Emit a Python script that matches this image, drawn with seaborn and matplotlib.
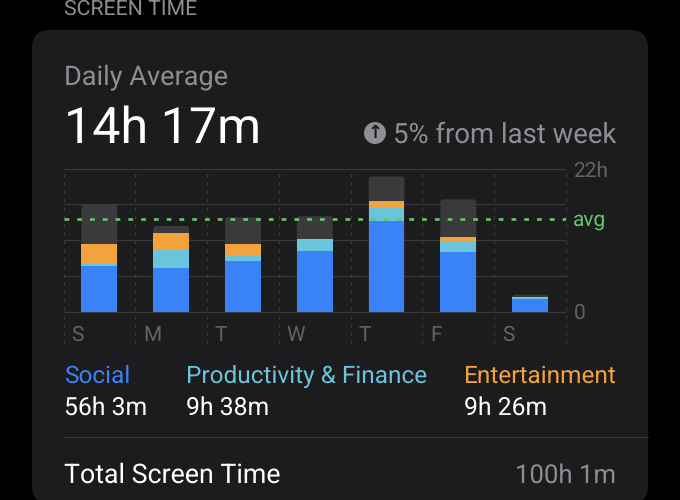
"""Screen Time weekly card, rebuilt with seaborn stacked bars."""
import matplotlib

matplotlib.use("Agg")
import matplotlib.pyplot as plt
import pandas as pd
import seaborn as sns
from matplotlib.patches import Circle, FancyBboxPatch

# hours per day
day_ids = ["d0", "d1", "d2", "d3", "d4", "d5", "d6"]
day_labels = ["S", "M", "T", "W", "T", "F", "S"]
social = [7.05, 6.75, 7.82, 9.3, 13.96, 9.2, 2.0]
productivity = [0.35, 2.76, 0.87, 1.69, 1.94, 1.64, 0.25]
entertainment = [3.07, 2.56, 1.78, 0.2, 1.18, 0.6, 0.0]
other = [6.03, 1.12, 4.03, 3.5, 3.7, 5.83, 0.4]
avg_hours = 14.28
y_max = 22
grid_hours = [0, 5.5, 11, 16.5, 22]

BLUE = "#3a82f7"
CYAN = "#6ac4dc"
ORANGE = "#f2a33c"
GRAY_BAR = "#3a3a3c"
CARD = "#1c1c1e"
GRID = "#3a3a3c"
MUTED = "#636366"
SOFT = "#8e8e93"
GREEN = "#63c966"
W, H = 680, 500

sns.set_theme(style="dark")
plt.rcParams["font.family"] = ["Roboto", "DejaVu Sans"]
plt.rcParams["text.hinting"] = "none"

fig = plt.figure(figsize=(W / 100, H / 100), dpi=100, facecolor="black")

# pixel-coordinate layer for the card and the text around the chart
bg = fig.add_axes([0, 0, 1, 1], zorder=0)
bg.set_xlim(0, W)
bg.set_ylim(H, 0)
bg.axis("off")
bg.add_patch(FancyBboxPatch((32, 30), 616, 474, boxstyle="round,pad=0,rounding_size=18",
                            fc=CARD, ec="none"))
bg.plot([64, 648], [437, 437], color="#38383a", lw=0.8)

# chart axes: x 63.5-566 px, y 168.5-344 px, zero at 312 px
px_per_hour = (312 - 168.5) / y_max
px_per_day = (566 - 63.5) / len(day_ids)
ax = fig.add_axes([63.5 / W, 1 - 344 / H, (566 - 63.5) / W, (344 - 168.5) / H], zorder=1)
ax.patch.set_alpha(0)

df = pd.DataFrame({"day": day_ids, "social": social, "productivity": productivity,
                   "entertainment": entertainment, "other": other})
df["s1"] = df["social"]
df["s2"] = df["s1"] + df["productivity"]
df["s3"] = df["s2"] + df["entertainment"]
df["s4"] = df["s3"] + df["other"]

for h in grid_hours:
    ax.axhline(h, color=GRID, lw=0.9, zorder=0)
for i in range(len(day_ids) + 1):
    ax.axvline(i - 0.5, color=GRID, lw=0.8, ls=(0, (3.5, 4)), zorder=0, clip_on=False)

# tallest first, each shorter stack painted over it
for col, colour in [("s4", GRAY_BAR), ("s3", ORANGE), ("s2", CYAN), ("s1", BLUE)]:
    sns.barplot(data=df, x="day", y=col, color=colour, width=0.5, saturation=1,
                order=day_ids, ax=ax, zorder=2, linewidth=0)

# round the top of the gray bars, 3 px radius in both directions
gray_bars = list(ax.patches[:len(day_ids)])
for bar in gray_bars:
    x0, w, h = bar.get_x(), bar.get_width(), bar.get_height()
    bar.set_visible(False)
    ax.add_patch(FancyBboxPatch((x0, 0), w, h,
                                boxstyle=f"round,pad=0,rounding_size={3 / px_per_day}",
                                mutation_aspect=px_per_day / px_per_hour,
                                fc=GRAY_BAR, ec="none", zorder=1.5))

ax.plot([-0.5, 6.5], [avg_hours, avg_hours], color=GREEN, lw=1.9,
        ls=(0, (1.8, 3.04)), zorder=4, dash_capstyle="butt")

ax.set_xlim(-0.5, 6.5)
ax.set_ylim(-(344 - 312) / px_per_hour, y_max)
ax.set_xlabel("")
ax.set_ylabel("")
ax.set_xticks([])
ax.set_yticks([])
sns.despine(ax=ax, left=True, bottom=True)
for i, label in enumerate(day_labels):
    ax.text(i - 0.39, -4.45, label, color=MUTED, fontsize=15, ha="left", va="baseline")

bg.text(573.5, 177, "22h", color=MUTED, fontsize=15, va="baseline")
bg.text(573.5, 318.5, "0", color=MUTED, fontsize=15, va="baseline")
bg.text(572.5, 226, "avg", color=GREEN, fontsize=15, va="baseline")

bg.text(64, 15, "SCREEN TIME", color=SOFT, fontsize=15.3, va="baseline")
bg.text(64, 85, "Daily Average", color=SOFT, fontsize=19.5, va="baseline")
bg.text(64, 143, "14h 17m", color="white", fontsize=36.2, va="baseline")
bg.add_patch(Circle((375, 133), 11, fc=SOFT, ec="none"))
bg.text(375, 133, "↑", color=CARD, fontsize=13, fontweight="bold", ha="center", va="center",
        family="DejaVu Sans")
bg.text(616, 143, "5% from last week", color=SOFT, fontsize=19.8, ha="right", va="baseline")

bg.text(64, 383, "Social", color=BLUE, fontsize=17.6, va="baseline")
bg.text(185.5, 383, "Productivity & Finance", color=CYAN, fontsize=17.6, va="baseline")
bg.text(463.5, 383, "Entertainment", color=ORANGE, fontsize=17.6, va="baseline")
bg.text(64, 416, "56h 3m", color="white", fontsize=17.8, va="baseline")
bg.text(185.5, 416, "9h 38m", color="white", fontsize=17.8, va="baseline")
bg.text(463.5, 416, "9h 26m", color="white", fontsize=17.8, va="baseline")
bg.text(64, 483, "Total Screen Time", color="white", fontsize=19.3, va="baseline")
bg.text(616, 483, "100h 1m", color=SOFT, fontsize=18.5, ha="right", va="baseline")

fig.savefig("out.png", dpi=100, facecolor="black")
